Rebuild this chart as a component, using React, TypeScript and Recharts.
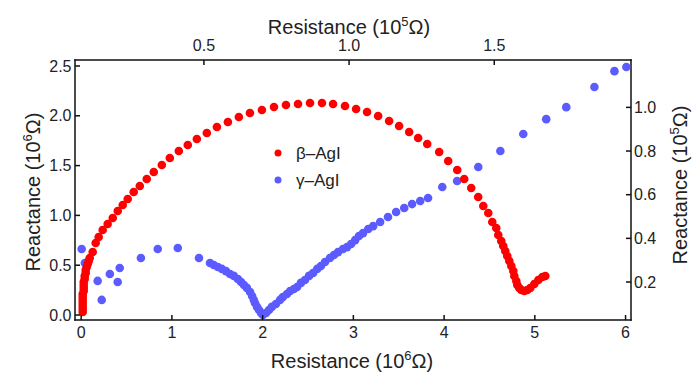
import React from "react"
import { ScatterChart, Scatter, XAxis, YAxis, Legend } from "recharts"

const FONT = '"Liberation Sans", Arial, sans-serif'
const RED = "#ff0000"
const BLUE = "#5b5bff"
const INK = "#222"
const FRAME = "#111"

// β-AgI, resistance and reactance in 10^6 Ω (bottom / left axes)
const betaR = [
  0.017, 0.017, 0.017, 0.017, 0.017, 0.017, 0.017, 0.028, 0.028, 0.028, 0.028, 0.039, 0.039,
  0.05, 0.05, 0.061, 0.072, 0.083, 0.094, 0.127, 0.16, 0.193, 0.237, 0.292, 0.348, 0.403, 0.458,
  0.513, 0.579, 0.646, 0.723, 0.8, 0.889, 0.977, 1.076, 1.175, 1.275, 1.385, 1.496, 1.617, 1.738,
  1.86, 1.992, 2.125, 2.257, 2.39, 2.522, 2.654, 2.776, 2.908, 3.03, 3.151, 3.273, 3.394, 3.504,
  3.615, 3.714, 3.814, 3.946, 4.045, 4.145, 4.222, 4.299, 4.376, 4.432, 4.487, 4.531, 4.575,
  4.597, 4.63, 4.652, 4.674, 4.696, 4.719, 4.741, 4.763, 4.774, 4.796, 4.807, 4.829, 4.851,
  4.884, 4.917, 4.95, 4.994, 5.039, 5.083, 5.116,
]
const betaX = [
  0.03, 0.06, 0.09, 0.12, 0.151, 0.181, 0.211, 0.241, 0.271, 0.301, 0.331, 0.361, 0.392,
  0.422, 0.452, 0.482, 0.512, 0.542, 0.572, 0.633, 0.723, 0.783, 0.853, 0.914, 0.974, 1.044, 1.104,
  1.165, 1.235, 1.295, 1.365, 1.436, 1.506, 1.576, 1.647, 1.707, 1.767, 1.827, 1.888, 1.938, 1.988,
  2.028, 2.058, 2.088, 2.108, 2.118, 2.129, 2.129, 2.118, 2.098, 2.068, 2.038, 1.998, 1.948, 1.898,
  1.837, 1.777, 1.717, 1.637, 1.546, 1.456, 1.365, 1.275, 1.185, 1.094, 1.024, 0.934, 0.873,
  0.803, 0.743, 0.693, 0.643, 0.592, 0.542, 0.492, 0.442, 0.392, 0.341, 0.301, 0.271, 0.251,
  0.241, 0.251, 0.271, 0.311, 0.351, 0.382, 0.392,
]

// γ-AgI, resistance and reactance in 10^5 Ω (top / right axes)
const gammaR = [
  0.079, 0.09, 0.134, 0.148, 0.176, 0.203, 0.21, 0.283, 0.341, 0.41, 0.483, 0.521,
  0.534, 0.548, 0.562, 0.576, 0.59, 0.603, 0.617, 0.628, 0.638, 0.648, 0.659, 0.666, 0.672,
  0.676, 0.683, 0.69, 0.697, 0.703, 0.714, 0.724, 0.734, 0.748, 0.762, 0.772, 0.786, 0.797,
  0.81, 0.821, 0.834, 0.848, 0.862, 0.876, 0.89, 0.903, 0.917, 0.934, 0.948, 0.962, 0.979,
  0.993, 1.007, 1.021, 1.034, 1.048, 1.066, 1.083, 1.107, 1.134, 1.162, 1.19, 1.217, 1.245,
  1.272, 1.321, 1.372, 1.445, 1.521, 1.6, 1.679, 1.748, 1.845, 1.914, 1.955,
]
const gammaX = [
  0.351, 0.287, 0.205, 0.118, 0.237, 0.2, 0.264, 0.31, 0.351, 0.356, 0.31, 0.287,
  0.278, 0.269, 0.26, 0.25, 0.237, 0.228, 0.214, 0.2, 0.186, 0.173, 0.154, 0.136, 0.118,
  0.104, 0.086, 0.072, 0.058, 0.049, 0.058, 0.072, 0.086, 0.099, 0.118, 0.131, 0.145, 0.159,
  0.168, 0.177, 0.196, 0.209, 0.228, 0.241, 0.26, 0.273, 0.292, 0.31, 0.324, 0.337, 0.351,
  0.36, 0.374, 0.392, 0.411, 0.424, 0.443, 0.456, 0.475, 0.498, 0.521, 0.539, 0.557, 0.571,
  0.585, 0.635, 0.663, 0.727, 0.8, 0.878, 0.946, 1.001, 1.093, 1.166, 1.185,
]

const bottomTicks = [0, 1, 2, 3, 4, 5, 6]
const leftTicks = [0, 0.5, 1, 1.5, 2, 2.5]
const topTicks = [0.5, 1, 1.5]
const rightTicks = [0.2, 0.4, 0.6, 0.8, 1]

const bottomDomain = [-0.068, 6.06]
const leftDomain = [-0.05, 2.56]
const topDomain = [0.056, 1.971]
const rightDomain = [0.026, 1.217]

const betaData = betaR.map((x, i) => ({ x, y: betaX[i] }))
const gammaData = gammaR.map((x, i) => ({ x, y: gammaX[i] }))

// plot box inside the 694x374 chart
const W = 694
const H = 374
const BOX = { left: 75, top: 60, right: 631, bottom: 320 }

type Side = "bottom" | "top" | "left" | "right"

const MARGIN: Record<Side, number> = { bottom: 7, top: 9, left: 3.5, right: 3 }
const TICK = 5
const LW = 1.5

// tick label plus a short inward tick mark
function makeTick(side: Side, fmt: (v: number) => string) {
  return (props: any) => {
    const { x, y, payload } = props
    const txt = { fontSize: 16, fontFamily: FONT, fill: INK }
    const label = fmt(payload.value)
    if (side === "bottom")
      return (
        <g>
          <rect x={x - LW / 2} y={BOX.bottom - TICK} width={LW} height={TICK} fill={FRAME} />
          <text x={x} y={y} dy="0.71em" textAnchor="middle" {...txt}>{label}</text>
        </g>
      )
    if (side === "top")
      return (
        <g>
          <rect x={x - LW / 2} y={BOX.top} width={LW} height={TICK} fill={FRAME} />
          <text x={x} y={y} textAnchor="middle" {...txt}>{label}</text>
        </g>
      )
    if (side === "left")
      return (
        <g>
          <rect x={BOX.left} y={y - LW / 2} width={TICK} height={LW} fill={FRAME} />
          <text x={x} y={y} dy="0.355em" textAnchor="end" {...txt}>{label}</text>
        </g>
      )
    return (
      <g>
        <rect x={BOX.right - TICK} y={y - LW / 2} width={TICK} height={LW} fill={FRAME} />
        <text x={x} y={y} dy="0.355em" textAnchor="start" {...txt}>{label}</text>
      </g>
    )
  }
}

// axis title plus its side of the frame; recharts clones this with its own x/y, so other prop names are used
function AxisTitle(props: any) {
  const { tx, ty, name, exp, side } = props
  const rotate = side === "left" || side === "right"
  const bw = BOX.right - BOX.left
  const bh = BOX.bottom - BOX.top
  let line = null
  if (side === "bottom") line = <rect x={BOX.left - LW / 2} y={BOX.bottom - LW / 2} width={bw + LW} height={LW} fill={FRAME} />
  if (side === "top") line = <rect x={BOX.left - LW / 2} y={BOX.top - LW / 2} width={bw + LW} height={LW} fill={FRAME} />
  if (side === "left") line = <rect x={BOX.left - LW / 2} y={BOX.top - LW / 2} width={LW} height={bh + LW} fill={FRAME} />
  if (side === "right") line = <rect x={BOX.right - LW / 2} y={BOX.top - LW / 2} width={LW} height={bh + LW} fill={FRAME} />
  return (
    <g>
      {line}
      <text
        x={tx}
        y={ty}
        textAnchor="middle"
        fontSize={20}
        fontFamily={FONT}
        fill={INK}
        transform={rotate ? `rotate(-90 ${tx} ${ty})` : undefined}
      >
        {name} (10
        <tspan dy={-8} fontSize={13}>{exp}</tspan>
        <tspan dy={8}>Ω)</tspan>
      </text>
    </g>
  )
}

function Dot(color: string) {
  return (props: any) => <circle cx={props.cx} cy={props.cy} r={4.3} fill={color} />
}

function LegendBox() {
  return (
    <svg width={120} height={56} style={{ display: "block" }}>
      <circle cx={10} cy={13} r={3.5} fill={RED} />
      <text x={28} y={13} dominantBaseline="central" fontSize={17} fontFamily={FONT} fill={INK}>β–AgI</text>
      <circle cx={10} cy={40} r={3.5} fill={BLUE} />
      <text x={28} y={40} dominantBaseline="central" fontSize={17} fontFamily={FONT} fill={INK}>γ–AgI</text>
    </svg>
  )
}

const int = (v: number) => String(v)
const one = (v: number) => v.toFixed(1)

export default function App() {
  return (
    <div style={{ position: "absolute", left: 0, top: 0, background: "#fff" }}>
      <ScatterChart width={W} height={H} margin={{ top: 0, right: 0, bottom: 0, left: 0 }} style={{ fontFamily: FONT }}>
        <XAxis
          xAxisId="bottom"
          orientation="bottom"
          type="number"
          dataKey="x"
          domain={bottomDomain}
          allowDataOverflow
          ticks={bottomTicks}
          height={H - BOX.bottom}
          tickSize={0}
          tickMargin={MARGIN.bottom}
          tickLine={false}
          axisLine={false}
          tick={makeTick("bottom", int)}
          label={<AxisTitle tx={352} ty={368} name="Resistance" exp="6" side="bottom" />}
        />
        <XAxis
          xAxisId="top"
          orientation="top"
          type="number"
          dataKey="x"
          domain={topDomain}
          allowDataOverflow
          ticks={topTicks}
          height={BOX.top}
          tickSize={0}
          tickMargin={MARGIN.top}
          tickLine={false}
          axisLine={false}
          tick={makeTick("top", one)}
          label={<AxisTitle tx={349} ty={34} name="Resistance" exp="5" side="top" />}
        />
        <YAxis
          yAxisId="left"
          orientation="left"
          type="number"
          dataKey="y"
          domain={leftDomain}
          allowDataOverflow
          ticks={leftTicks}
          width={BOX.left}
          tickSize={0}
          tickMargin={MARGIN.left}
          tickLine={false}
          axisLine={false}
          tick={makeTick("left", one)}
          label={<AxisTitle tx={40} ty={192} name="Reactance" exp="6" side="left" />}
        />
        <YAxis
          yAxisId="right"
          orientation="right"
          type="number"
          dataKey="y"
          domain={rightDomain}
          allowDataOverflow
          ticks={rightTicks}
          width={W - BOX.right}
          tickSize={0}
          tickMargin={MARGIN.right}
          tickLine={false}
          axisLine={false}
          tick={makeTick("right", one)}
          label={<AxisTitle tx={687} ty={185} name="Reactance" exp="5" side="right" />}
        />
        <Legend
          layout="vertical"
          align="center"
          verticalAlign="middle"
          content={() => <LegendBox />}
          wrapperStyle={{ left: 268, top: 140, width: 120, height: 56 }}
        />
        <Scatter
          name="γ–AgI"
          data={gammaData}
          xAxisId="top"
          yAxisId="right"
          fill={BLUE}
          shape={Dot(BLUE)}
          isAnimationActive={false}
        />
        <Scatter
          name="β–AgI"
          data={betaData}
          xAxisId="bottom"
          yAxisId="left"
          fill={RED}
          shape={Dot(RED)}
          isAnimationActive={false}
        />
      </ScatterChart>
    </div>
  )
}
